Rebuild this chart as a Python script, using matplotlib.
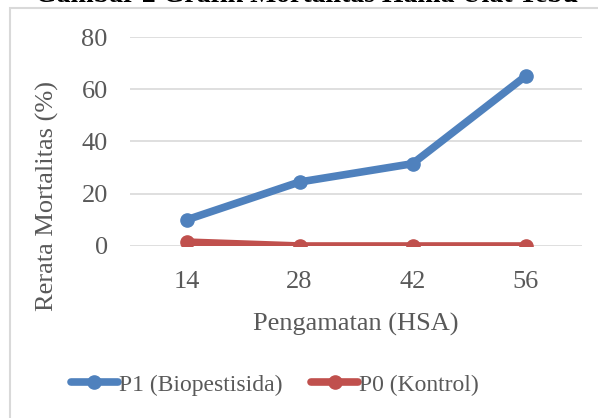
import matplotlib
matplotlib.use("Agg")
import matplotlib.pyplot as plt
from matplotlib.patches import Rectangle

# data
days = ["14", "28", "42", "56"]
p1_biopestisida = [10, 24.5, 31.5, 65]
p0_kontrol = [1.5, 0, 0, 0]
y_ticks = [0, 20, 40, 60, 80]

BLUE = "#4F81BD"
RED = "#C0504D"
GRID = "#D9D9D9"
TEXT = "#595959"

plt.rcParams["font.family"] = ["Liberation Serif", "DejaVu Serif"]

fig = plt.figure(figsize=(5.98, 4.18), dpi=100)
ax = fig.add_axes([130 / 598, 1 - 246 / 418, 452 / 598, 209 / 418])

x = range(len(days))
ax.plot(x, p1_biopestisida, color=BLUE, lw=5.5, marker="o", ms=9.5,
        solid_capstyle="round", label="P1 (Biopestisida)", zorder=3)
ax.plot(x, p0_kontrol, color=RED, lw=5.5, marker="o", ms=9.5,
        solid_capstyle="round", label="P0 (Kontrol)", zorder=3)

ax.set_xlim(-0.5, len(days) - 0.5)
ax.set_ylim(0, 80)
ax.set_xticks(list(x))
ax.set_xticklabels(days)
ax.set_yticks(y_ticks)
ax.tick_params(length=0, labelsize=19, colors=TEXT)
ax.tick_params(axis="x", pad=18)
ax.tick_params(axis="y", pad=16)
ax.grid(axis="y", color=GRID, lw=1.2)
ax.set_axisbelow(True)
for s in ax.spines.values():
    s.set_visible(False)

ax.set_xlabel("Pengamatan (HSA)", fontsize=19, color=TEXT, labelpad=14)
fig.text(47 / 598, 1 - 196 / 418, "Rerata Mortalitas (%)", rotation=90,
         ha="center", va="center", fontsize=19, color=TEXT)

fig.legend(loc="center", bbox_to_anchor=(275 / 598, 1 - 385 / 418), ncol=2,
           frameon=False, fontsize=17, labelcolor=TEXT, handlelength=2.0,
           handletextpad=0.05, columnspacing=1.2)

# chart border and clipped caption above it
fig.patches.append(Rectangle((10 / 598, -0.1), 1.0, 1 - 8 / 418 + 0.1,
                             transform=fig.transFigure, fill=False,
                             edgecolor=GRID, lw=1.5))
fig.text(35 / 598, 1 + 5 / 418, "Gambar 2 Grafik Mortalitas Hama Ulat Tebu",
         ha="left", va="center", fontsize=20, fontweight="bold", color="black")

fig.savefig("out.png", dpi=100)
